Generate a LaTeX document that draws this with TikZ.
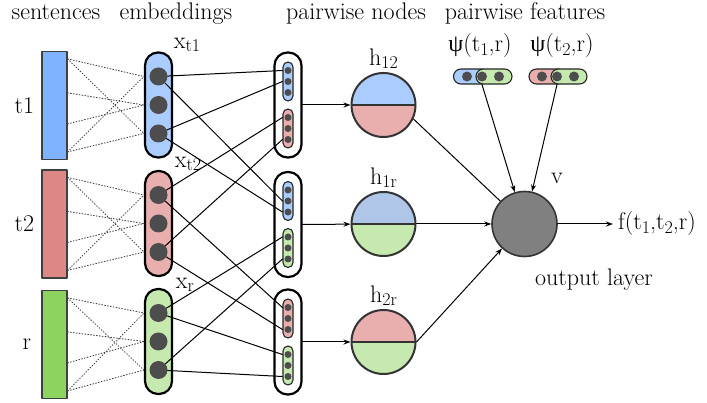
\documentclass[tikz,border=0pt]{standalone}
\usepackage{fontspec}
\newfontfamily\grkfont{Liberation Serif}
\usetikzlibrary{positioning,calc,arrows.meta}
\definecolor{sentblue}{HTML}{80B3FF}
\definecolor{sentred}{HTML}{DE8787}
\definecolor{sentgreen}{HTML}{8DD35F}
\definecolor{capblue}{HTML}{AACCFF}
\definecolor{capred}{HTML}{E9AFAF}
\definecolor{capgreen}{HTML}{C6E9AF}
\definecolor{hblue}{HTML}{AFC6E9}
\definecolor{dotgray}{HTML}{4D4D4D}
\definecolor{vgray}{HTML}{808080}
\newcommand{\lsub}[1]{\raisebox{-0.32ex}{\fontsize{18}{20}\selectfont #1}}
\begin{document}
\begin{tikzpicture}[x=1pt, y=-1pt, >={Stealth[length=7pt,width=5pt]}, font=\fontsize{24}{28}\selectfont, line join=round, line cap=round,
  lab/.style={inner sep=1pt},
  sent/.style={draw=black!75, line width=1.2pt, minimum width=25pt, minimum height=108pt, inner sep=0pt},
  capsule/.style={draw, line width=2.2pt, rounded corners=13pt, minimum width=27pt, minimum height=105pt, inner sep=0pt},
  mini/.style={draw=black!85, line width=1.1pt, rounded corners=5pt, minimum width=10pt, minimum height=39pt, inner sep=0pt},
  feat/.style={draw=black!85, line width=1.1pt, rounded corners=7.5pt, minimum width=36pt, minimum height=15pt, inner sep=0pt},
  bigdot/.style={circle, fill=dotgray, minimum size=18pt, inner sep=0pt},
  smalldot/.style={circle, fill=dotgray, minimum size=7pt, inner sep=0pt},
  featdot/.style={circle, fill=dotgray, minimum size=10pt, inner sep=0pt},
  hnode/.style 2 args={circle, minimum size=64pt, inner sep=0pt, draw=black!80, line width=2pt,
    path picture={\fill[#1] (path picture bounding box.north west) rectangle (path picture bounding box.east);
      \fill[#2] (path picture bounding box.west) rectangle (path picture bounding box.south east);
      \draw[black!80, line width=2pt] (path picture bounding box.west) -- (path picture bounding box.east);}},
  link/.style={line width=1pt},
  dotline/.style={dotted, line width=0.9pt, black!75}]
\useasboundingbox (0,0) rectangle (707,403);
% column titles
\node[lab, anchor=base] at (56,20) {sentences};
\node[lab, anchor=base] at (176,20) {embeddings};
\node[lab, anchor=base] at (356,20) {pairwise nodes};
\node[lab, anchor=base] at (525,20) {pairwise features};
% sentences
\node[sent, fill=sentblue] (s1) at (54.5,105.5) {};
\node[sent, fill=sentred] (s2) at (54.5,224) {};
\node[sent, fill=sentgreen] (s3) at (54.5,344.5) {};
\node[lab, left=6pt of s1] {t\oldstylenums{1}};
\node[lab, left=6pt of s2] {t\oldstylenums{2}};
\node[lab, left=9pt of s3] {r};
% embeddings
\foreach \n/\y/\c in {xt1/105/capblue, xt2/223.5/capred, xr/341.5/capgreen} {
  \node[capsule, fill=\c] (\n) at (158.5,\y) {};
  \foreach \i/\d in {1/-28.5, 2/0, 3/28.5}
    \node[bigdot] (\n-\i) at (158.5,\y+\d) {};
}
\node[lab] at (187,45) {x\lsub{t\oldstylenums{1}}};
\node[lab] at (188,164) {x\lsub{t\oldstylenums{2}}};
\node[lab] at (185,285) {x\lsub{r}};
% sentence -> embedding
\foreach \s/\n in {s1/xt1, s2/xt2, s3/xr}
  \foreach \f/\t in {8/1, 8/3, 42/2, 73/2, 101/1, 101/3}
    \draw[dotline] ($(\s.north east)+(0,\f)$) -- (\n-\t -| \n.west);
% pairwise nodes
\foreach \n/\y/\ca/\cb in {p1/105/capblue/capred, p2/224.5/capblue/capgreen, p3/342/capred/capgreen} {
  \node[capsule] (\n) at (288,\y) {};
  \node[mini, fill=\ca] (\n-a) at (288,\y-23.5) {};
  \node[mini, fill=\cb] (\n-b) at (288,\y+23.5) {};
  \foreach \i/\d in {1/-11, 2/0, 3/11} {
    \node[smalldot] (\n-a-\i) at (288,\y-23.5+\d) {};
    \node[smalldot] (\n-b-\i) at (288,\y+23.5+\d) {};
  }
}
\foreach \s/\t/\i in {xt1-1/p1-a/1, xt1-3/p1-a/2, xt1-1/p2-a/2, xt1-3/p2-a/3,
    xt2-1/p1-b/1, xt2-3/p1-b/3, xt2-1/p3-a/1, xt2-3/p3-a/3,
    xr-1/p2-b/1, xr-3/p2-b/3, xr-1/p3-b/1, xr-3/p3-b/3}
  \draw[link] (\s) -- (\t-\i -| \t.west);
% hidden pairs
\node[hnode={capblue}{capred}] (h12) at (383.5,105) {};
\node[hnode={hblue}{capgreen}] (h1r) at (383.5,224) {};
\node[hnode={capred}{capgreen}] (h2r) at (383.5,342) {};
\node[lab, above=2pt of h12] {h\lsub{\oldstylenums{12}}};
\node[lab, above=2pt of h1r] {h\lsub{\oldstylenums{1}r}};
\node[lab, above=2pt of h2r] {h\lsub{\oldstylenums{2}r}};
\draw[link,->] (p1) -- (h12);
\draw[link,->] (p2) -- (h1r);
\draw[link,->] (p3) -- (h2r);
% pairwise features
\node[feat, fill=capblue] (f1-a) at (471.5,76.5) {};
\node[feat, fill=capgreen] (f1-b) at (494,76.5) {};
\node[featdot] (f1-a-1) at (467,76.5) {};
\node[featdot] (f1-b-1) at (482,76.5) {};
\node[featdot] (f1-b-2) at (499,76.5) {};
\node[feat, fill=capred] (f2-a) at (547,76.5) {};
\node[feat, fill=capgreen] (f2-b) at (569,76.5) {};
\node[featdot] (f2-a-1) at (542,76.5) {};
\node[featdot] (f2-b-1) at (557,76.5) {};
\node[featdot] (f2-b-2) at (574,76.5) {};
\node[lab] at (480,46) {{\grkfont ψ}(t\lsub{\oldstylenums{1}},r)};
\node[lab] at (562,46) {{\grkfont ψ}(t\lsub{\oldstylenums{2}},r)};
% output layer
\node[circle, minimum size=65pt, inner sep=0pt, fill=vgray, draw=black!80, line width=1.6pt] (v) at (524.5,224) {};
\node[lab] at (557,178) {v};
\node[lab] at (594,280) {output layer};
\draw[link] (h12.-25) -- (v);
\draw[link,->] (h1r) -- (v);
\draw[link,->] (h2r.east) -- (v);
\draw[link,->] (f1-b-1 |- f1-b.south) -- (v);
\draw[link,->] (f2-b-1 |- f2-b.south) -- (v);
\coordinate (out) at (613,224);
\draw[link,->] (v) -- (out);
\node[lab, right=4pt of out] {f(t\lsub{\oldstylenums{1}},t\lsub{\oldstylenums{2}},r)};
\end{tikzpicture}
\end{document}
